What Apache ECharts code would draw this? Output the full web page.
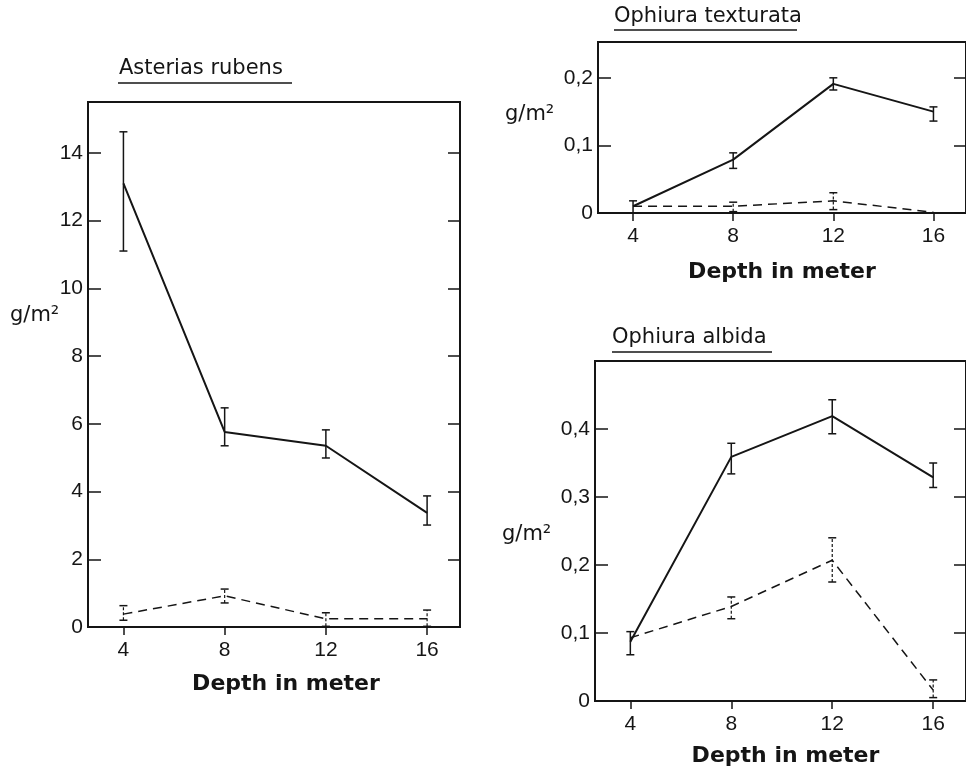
<!DOCTYPE html>
<html>
<head>
<meta charset="utf-8">
<script src="https://cdn.jsdelivr.net/npm/echarts@6/dist/echarts.min.js"></script>
<style>
  html, body { margin: 0; padding: 0; background: #fff; }
  #chart { width: 966px; height: 772px; }
</style>
</head>
<body>
<div id="chart"></div>
<script>
// Sampling depths (m)
const depths = [4, 8, 12, 16];

// Asterias rubens, biomass g/m2 (solid and dashed series with error ranges)
const asteriasSolid = [13.1, 5.76, 5.35, 3.37];
const asteriasSolidLow = [11.1, 5.35, 4.99, 3.01];
const asteriasSolidHigh = [14.62, 6.47, 5.82, 3.87];
const asteriasDashed = [0.38, 0.92, 0.24, 0.24];
const asteriasDashedLow = [0.2, 0.71, 0.02, 0.02];
const asteriasDashedHigh = [0.63, 1.12, 0.42, 0.5];

// Ophiura texturata
const texturataSolid = [0.010, 0.079, 0.191, 0.150];
const texturataSolidLow = [0.0, 0.066, 0.182, 0.136];
const texturataSolidHigh = [0.018, 0.089, 0.200, 0.157];
const texturataDashed = [0.010, 0.010, 0.018, 0.001];
const texturataDashedLow = [null, 0.002, 0.005, null];
const texturataDashedHigh = [null, 0.016, 0.030, null];

// Ophiura albida
const albidaSolid = [0.087, 0.359, 0.419, 0.329];
const albidaSolidLow = [0.068, 0.334, 0.393, 0.314];
const albidaSolidHigh = [0.102, 0.379, 0.443, 0.350];
const albidaDashed = [0.093, 0.139, 0.207, 0.016];
const albidaDashedLow = [null, 0.121, 0.175, 0.005];
const albidaDashedHigh = [null, 0.153, 0.240, 0.031];

// Tick labels
const xTicks = [4, 8, 12, 16];
const asteriasYTicks = [0, 2, 4, 6, 8, 10, 12, 14];
const texturataYTicks = [0, 0.1, 0.2];
const albidaYTicks = [0, 0.1, 0.2, 0.3, 0.4];

const INK = '#151515';
const tickFont = '"Liberation Sans", Arial, sans-serif';
const textFont = '"DejaVu Sans", sans-serif';

const pairs = (ys) => depths.map((d, i) => [d, ys[i]]);
const ranges = (lo, hi) => depths
  .map((d, i) => [d, lo[i], hi[i]])
  .filter(r => r[1] !== null && r[2] !== null);

const commaLabel = (v) => String(Math.round(v * 100) / 100).replace('.', ',');

function xAxisFor(gridIndex, gap, shift) {
  return {
    type: 'value', gridIndex, min: 2.6, max: 17.3,
    splitLine: { show: false },
    axisLine: { show: true, lineStyle: { color: INK, width: 2 } },
    axisTick: { show: true, inside: false, length: 8, customValues: xTicks,
                lineStyle: { color: INK, width: 1.5 } },
    axisLabel: { customValues: xTicks, margin: 13, color: INK,
                 fontFamily: tickFont, fontSize: 21 },
    name: 'Depth in meter', nameLocation: 'middle', nameGap: gap,
    nameTextStyle: { fontFamily: textFont, fontWeight: 'bold', fontSize: 22,
                     color: INK, padding: [0, 0, 0, shift] }
  };
}

function yAxesFor(gridIndex, max, ticks) {
  const base = {
    type: 'value', gridIndex, min: 0, max,
    splitLine: { show: false },
    axisLine: { show: false }
  };
  return [
    Object.assign({}, base, {
      position: 'left',
      axisTick: { show: true, inside: true, length: 13, customValues: ticks,
                  lineStyle: { color: INK, width: 1.5 } },
      axisLabel: { customValues: ticks, margin: 5, color: INK,
                   fontFamily: tickFont, fontSize: 21, formatter: commaLabel }
    }),
    Object.assign({}, base, {
      position: 'right',
      axisTick: { show: true, inside: true, length: 12, customValues: ticks,
                  lineStyle: { color: INK, width: 1.5 } },
      axisLabel: { show: false }
    })
  ];
}

function lineSeries(idx, data, dashed) {
  return {
    type: 'line', xAxisIndex: idx, yAxisIndex: idx * 2,
    data, showSymbol: false, symbol: 'none', silent: true,
    lineStyle: dashed
      ? { color: INK, width: 1.5, type: [9, 6] }
      : { color: INK, width: 2 },
    z: 3
  };
}

function errorSeries(idx, data, dashed) {
  return {
    type: 'custom', xAxisIndex: idx, yAxisIndex: idx * 2, data, silent: true,
    clip: false, z: 4,
    renderItem: function (params, api) {
      const x = api.value(0);
      const lo = api.coord([x, api.value(1)]);
      const hi = api.coord([x, api.value(2)]);
      const w = 4;
      const style = { stroke: INK, lineWidth: dashed ? 1.2 : 1.5,
                      lineDash: dashed ? [3, 2] : null };
      const capStyle = { stroke: INK, lineWidth: 1.5 };
      return {
        type: 'group',
        children: [
          { type: 'line', shape: { x1: lo[0], y1: lo[1], x2: hi[0], y2: hi[1] }, style },
          { type: 'line', shape: { x1: hi[0] - w, y1: hi[1], x2: hi[0] + w, y2: hi[1] }, style: capStyle },
          { type: 'line', shape: { x1: lo[0] - w, y1: lo[1], x2: lo[0] + w, y2: lo[1] }, style: capStyle }
        ]
      };
    }
  };
}

const gridStyle = { show: true, borderColor: INK, borderWidth: 2, backgroundColor: 'transparent' };

const titleStyle = { fontFamily: textFont, fontSize: 21, fontWeight: 'normal', color: INK, lineHeight: 24 };

const option = {
  backgroundColor: '#ffffff',
  animation: false,
  title: [
    { text: 'Asterias rubens', left: 119, top: 57, padding: 0, textStyle: titleStyle },
    { text: 'Ophiura texturata', left: 614, top: 5, padding: 0, textStyle: titleStyle },
    { text: 'Ophiura albida', left: 612, top: 326, padding: 0, textStyle: titleStyle }
  ],
  graphic: [
    { type: 'line', shape: { x1: 118, y1: 83, x2: 292, y2: 83 }, style: { stroke: INK, lineWidth: 1.5 } },
    { type: 'line', shape: { x1: 614, y1: 30, x2: 797, y2: 30 }, style: { stroke: INK, lineWidth: 1.5 } },
    { type: 'line', shape: { x1: 612, y1: 352, x2: 772, y2: 352 }, style: { stroke: INK, lineWidth: 1.5 } },
    { type: 'text', x: 10, y: 316, style: { text: 'g/m²', font: '21px "DejaVu Sans", sans-serif', fill: INK, verticalAlign: 'middle' } },
    { type: 'text', x: 505, y: 115, style: { text: 'g/m²', font: '21px "DejaVu Sans", sans-serif', fill: INK, verticalAlign: 'middle' } },
    { type: 'text', x: 502, y: 535, style: { text: 'g/m²', font: '21px "DejaVu Sans", sans-serif', fill: INK, verticalAlign: 'middle' } }
  ],
  grid: [
    Object.assign({ left: 88, top: 102, width: 372, height: 525 }, gridStyle),
    Object.assign({ left: 598, top: 42, width: 370, height: 171 }, gridStyle),
    Object.assign({ left: 595, top: 361, width: 373, height: 340 }, gridStyle)
  ],
  xAxis: [
    xAxisFor(0, 46, 24),
    xAxisFor(1, 48, 0),
    xAxisFor(2, 44, 10)
  ],
  yAxis: [
    ...yAxesFor(0, 15.5, asteriasYTicks),
    ...yAxesFor(1, 0.253, texturataYTicks),
    ...yAxesFor(2, 0.5, albidaYTicks)
  ],
  series: [
    lineSeries(0, pairs(asteriasSolid), false),
    lineSeries(0, pairs(asteriasDashed), true),
    errorSeries(0, ranges(asteriasSolidLow, asteriasSolidHigh), false),
    errorSeries(0, ranges(asteriasDashedLow, asteriasDashedHigh), true),

    lineSeries(1, pairs(texturataSolid), false),
    lineSeries(1, pairs(texturataDashed), true),
    errorSeries(1, ranges(texturataSolidLow, texturataSolidHigh), false),
    errorSeries(1, ranges(texturataDashedLow, texturataDashedHigh), true),

    lineSeries(2, pairs(albidaSolid), false),
    lineSeries(2, pairs(albidaDashed), true),
    errorSeries(2, ranges(albidaSolidLow, albidaSolidHigh), false),
    errorSeries(2, ranges(albidaDashedLow, albidaDashedHigh), true)
  ]
};

const chart = echarts.init(document.getElementById('chart'), null, { renderer: 'canvas' });
chart.setOption(option);
</script>
</body>
</html>
